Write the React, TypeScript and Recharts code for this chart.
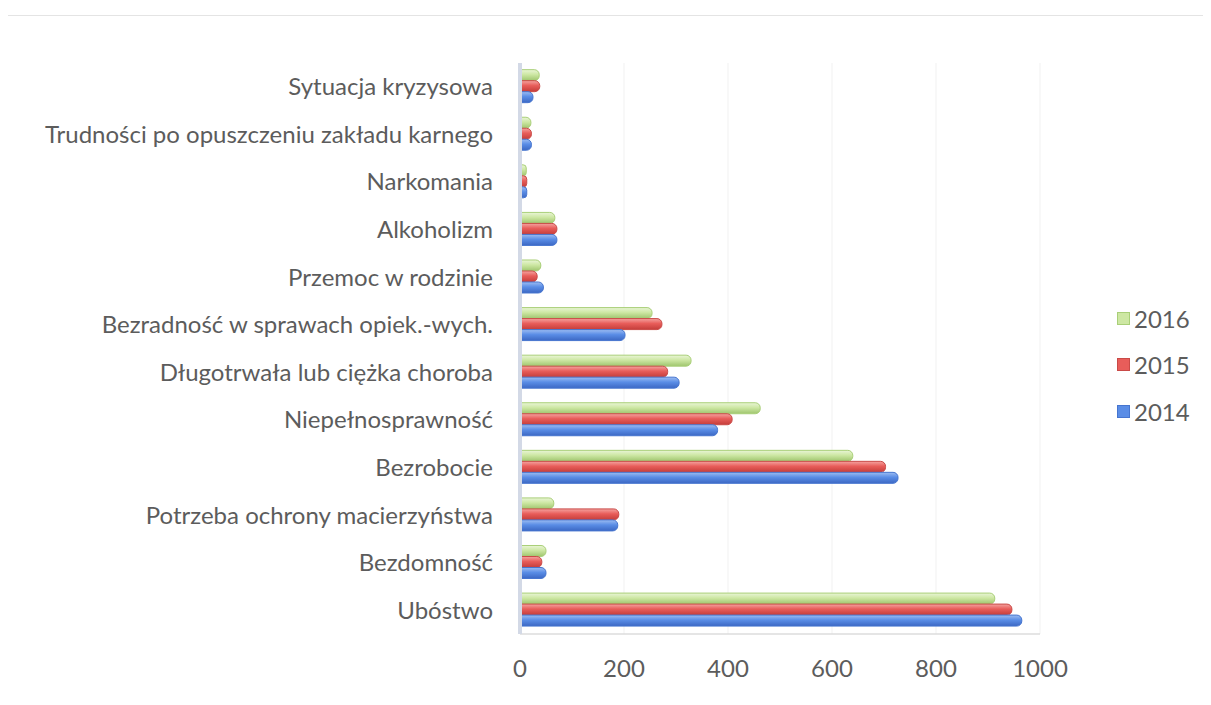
import React from "react";
import { BarChart, Bar, XAxis, YAxis, CartesianGrid, Legend } from "recharts";

const categories = [
  "Sytuacja kryzysowa",
  "Trudności po opuszczeniu zakładu karnego",
  "Narkomania",
  "Alkoholizm",
  "Przemoc w rodzinie",
  "Bezradność w sprawach opiek.-wych.",
  "Długotrwała lub ciężka choroba",
  "Niepełnosprawność",
  "Bezrobocie",
  "Potrzeba ochrony macierzyństwa",
  "Bezdomność",
  "Ubóstwo",
];
const values2016 = [37, 21, 12, 67, 40, 254, 329, 462, 640, 65, 50, 913];
const values2015 = [38, 22, 13, 71, 33, 273, 284, 408, 703, 190, 42, 946];
const values2014 = [25, 22, 13, 71, 45, 202, 306, 380, 727, 188, 50, 965];
const xTicks = [0, 200, 400, 600, 800, 1000];

const series = [
  { key: "y2016", name: "2016", base: "#cde7a3", light: "#e9f5d6", dark: "#9fc56e", border: "#a9cf78" },
  { key: "y2015", name: "2015", base: "#e85d5a", light: "#f4a3a0", dark: "#c43d3a", border: "#c94a47" },
  { key: "y2014", name: "2014", base: "#5a8de6", light: "#9dbdf2", dark: "#3c68c4", border: "#4675cf" },
];

const data = categories.map((c, i) => ({
  name: c,
  y2016: values2016[i],
  y2015: values2015[i],
  y2014: values2014[i],
}));

const FONT = "Lato, 'Open Sans', sans-serif";
const TEXT = "#5c5c5c";

const LegendContent = () => (
  <div style={{ fontFamily: FONT }}>
    {series.map((s) => (
      <div key={s.key} style={{ display: "flex", alignItems: "center", height: 46.5 }}>
        <span
          style={{
            display: "inline-block",
            width: 11,
            height: 11,
            background: s.base,
            border: `1px solid ${s.border}`,
            marginRight: 4,
          }}
        />
        <span style={{ fontSize: 24, color: TEXT }}>{s.name}</span>
      </div>
    ))}
  </div>
);

export default function App() {
  return (
    <div style={{ position: "relative", width: 1195, height: 690 }}>
      <div
        style={{
          position: "absolute",
          left: -3,
          top: 7,
          width: 1206,
          height: 690,
          borderTop: "1px solid #e4e4e4",
          borderLeft: "1px solid #ececec",
        }}
      />
      <BarChart
        width={1195}
        height={690}
        data={data}
        layout="vertical"
        margin={{ top: 55, right: 73, bottom: 24, left: 12 }}
        barCategoryGap="14%"
        barGap={0}
        style={{ fontFamily: FONT }}
      >
        <defs>
          {series.map((s) => (
            <linearGradient key={s.key} id={`g-${s.key}`} x1="0" y1="0" x2="0" y2="1">
              <stop offset="0%" stopColor={s.light} />
              <stop offset="45%" stopColor={s.base} />
              <stop offset="100%" stopColor={s.dark} />
            </linearGradient>
          ))}
        </defs>
        <CartesianGrid horizontal={false} stroke="#f1f1f1" />
        <XAxis
          type="number"
          domain={[0, 1000]}
          ticks={xTicks}
          interval={0}
          tickLine={false}
          axisLine={{ stroke: "#dcdcdc", strokeWidth: 1.5 }}
          tickMargin={20}
          height={40}
          tick={{ fontSize: 24, fill: TEXT, fontFamily: FONT }}
        />
        <YAxis
          type="category"
          dataKey="name"
          width={500}
          interval={0}
          tickLine={false}
          axisLine={{ stroke: "#d3d9e6", strokeWidth: 4 }}
          tickMargin={21}
          tick={{ fontSize: 24, fill: TEXT, fontFamily: FONT }}
        />
        <Legend
          layout="vertical"
          align="right"
          verticalAlign="top"
          content={<LegendContent />}
          wrapperStyle={{ left: 1109, top: 287, width: 90 }}
        />
        {series.map((s) => (
          <Bar
            key={s.key}
            dataKey={s.key}
            name={s.name}
            fill={`url(#g-${s.key})`}
            stroke={s.border}
            strokeWidth={1}
            radius={[0, 5, 5, 0]}
            isAnimationActive={false}
          />
        ))}
      </BarChart>
    </div>
  );
}
